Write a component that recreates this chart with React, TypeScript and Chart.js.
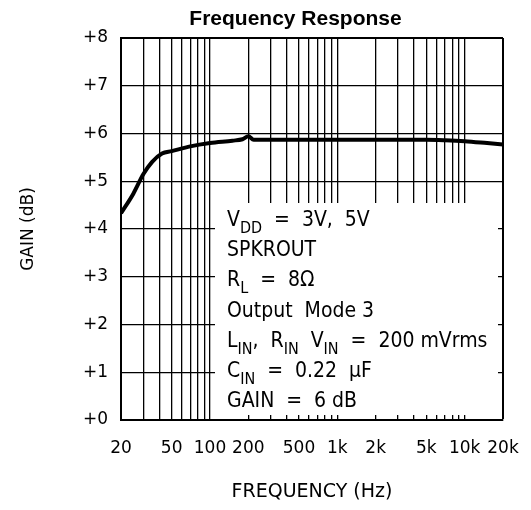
import React, { useEffect, useRef } from "react";
import { Chart, registerables } from "chart.js";

Chart.register(...registerables);

// ---- data ----
const freqs = [20, 25, 30, 35, 42, 50, 70, 100, 150, 180, 200, 220, 300, 500, 1000, 2000, 5000, 7000, 10000, 15000, 20000];
const gains = [4.33, 4.74, 5.15, 5.40, 5.58, 5.63, 5.73, 5.80, 5.85, 5.88, 5.94, 5.87, 5.87, 5.87, 5.87, 5.87, 5.87, 5.86, 5.84, 5.80, 5.77];

const gridFreqs = [20, 30, 40, 50, 60, 70, 80, 90, 100, 200, 300, 400, 500, 600, 700, 800, 900, 1000, 2000, 3000, 4000, 5000, 6000, 7000, 8000, 9000, 10000, 20000];
const xTickValues = [20, 50, 100, 200, 500, 1000, 2000, 5000, 10000, 20000];
const xTickLabels = ["20", "50", "100", "200", "500", "1k", "2k", "5k", "10k", "20k"];
const yTickValues = [0, 1, 2, 3, 4, 5, 6, 7, 8];
const yTickLabels = ["+0", "+1", "+2", "+3", "+4", "+5", "+6", "+7", "+8"];

const chartTitle = "Frequency Response";
const xTitle = "FREQUENCY (Hz)";
const yTitle = "GAIN (dB)";

// annotation lines: [text, isSubscript]
const annotationLines: [string, boolean][][] = [
  [["V", false], ["DD", true], ["  =  3V,  5V", false]],
  [["SPKROUT", false]],
  [["R", false], ["L", true], ["  =  8\u03A9", false]],
  [["Output  Mode 3", false]],
  [["L", false], ["IN", true], [",  R", false], ["IN", true], ["  V", false], ["IN", true], ["  =  200 mVrms", false]],
  [["C", false], ["IN", true], ["  =  0.22  \u03BCF", false]],
  [["GAIN  =  6 dB", false]],
];

const LABEL_FONT = '"DejaVu Sans", sans-serif';
const ANNO_FONT = '"DejaVu Sans Condensed", "DejaVu Sans", sans-serif';

const annotationPlugin = {
  id: "annoBox",
  beforeDatasetsDraw(chart: any) {
    const { ctx, chartArea } = chart;
    const { left, top, right, bottom } = chartArea;
    ctx.save();
    ctx.fillStyle = "#ffffff";
    const bx = left + 94;
    const by = top + 165;
    ctx.fillRect(bx, by, right - 5 - bx, bottom - 5 - by);
    ctx.fillStyle = "#000";
    ctx.textBaseline = "alphabetic";
    ctx.textAlign = "left";
    const x0 = left + 106;
    const y0 = top + 188;
    const step = 30.2;
    annotationLines.forEach((line, i) => {
      let x = x0;
      const y = y0 + i * step;
      line.forEach(([t, sub]) => {
        ctx.font = sub ? `16px ${ANNO_FONT}` : `21px ${ANNO_FONT}`;
        ctx.fillText(t, x, sub ? y + 7 : y);
        x += ctx.measureText(t).width;
      });
    });
    ctx.restore();
  },
  afterDraw(chart: any) {
    const { ctx } = chart;
    ctx.save();
    ctx.fillStyle = "#000";
    ctx.font = 'bold 21px "Liberation Sans", Arial, sans-serif';
    ctx.textAlign = "center";
    ctx.textBaseline = "alphabetic";
    ctx.fillText(chartTitle, 295.5, 25);
    ctx.restore();
  },
};

export default function App() {
  const canvasRef = useRef<HTMLCanvasElement | null>(null);

  useEffect(() => {
    if (!canvasRef.current) return;
    const chart = new Chart(canvasRef.current, {
      type: "line",
      data: {
        datasets: [
          {
            data: freqs.map((f, i) => ({ x: f, y: gains[i] })),
            borderColor: "#000",
            borderWidth: 4,
            pointRadius: 0,
            cubicInterpolationMode: "monotone",
            fill: false,
          },
        ],
      },
      plugins: [annotationPlugin],
      options: {
        animation: false,
        responsive: false,
        devicePixelRatio: 1,
        layout: { autoPadding: false, padding: { left: 0, right: 28, top: 38, bottom: 0 } },
        plugins: {
          legend: { display: false },
          title: { display: false },
          tooltip: { enabled: false },
        },
        scales: {
          x: {
            type: "logarithmic",
            min: 20,
            max: 20000,
            afterBuildTicks: (scale: any) => {
              scale.ticks = gridFreqs.map((v) => ({ value: v }));
            },
            afterFit: (scale: any) => {
              scale.height = 90;
              scale.paddingLeft = 0;
              scale.paddingRight = 0;
            },
            ticks: {
              autoSkip: false,
              maxRotation: 0,
              minRotation: 0,
              padding: 18,
              color: "#000",
              font: { family: LABEL_FONT, size: 17 },
              callback: (value: any) => {
                const i = xTickValues.indexOf(Number(value));
                return i >= 0 ? xTickLabels[i] : "";
              },
            },
            grid: {
              color: "#000",
              lineWidth: (ctx: any) => (ctx.tick && ctx.tick.value === 20000 ? 2 : 1.3),
              drawTicks: false,
            },
            border: { display: true, color: "#000", width: 2 },
            title: {
              display: true,
              text: xTitle,
              color: "#000",
              font: { family: LABEL_FONT, size: 19 },
              padding: { top: 0, bottom: 7 },
            },
          },
          y: {
            type: "linear",
            min: 0,
            max: 8,
            afterBuildTicks: (scale: any) => {
              scale.ticks = yTickValues.map((v) => ({ value: v }));
            },
            afterFit: (scale: any) => {
              scale.width = 121;
              scale.paddingTop = 0;
              scale.paddingBottom = 0;
            },
            ticks: {
              stepSize: 1,
              padding: 13,
              color: "#000",
              font: { family: LABEL_FONT, size: 17 },
              callback: (value: any) => {
                const i = yTickValues.indexOf(Number(value));
                return i >= 0 ? yTickLabels[i] : "";
              },
            },
            grid: {
              color: "#000",
              lineWidth: (ctx: any) => (ctx.tick && ctx.tick.value === 8 ? 2 : 1.3),
              drawTicks: false,
            },
            border: { display: true, color: "#000", width: 2 },
            title: {
              display: true,
              text: yTitle,
              color: "#000",
              font: { family: LABEL_FONT, size: 17 },
              padding: { top: 18, bottom: 0 },
            },
          },
        },
      } as any,
    });
    return () => chart.destroy();
  }, []);

  return (
    <div style={{ position: "fixed", left: 0, top: 0, width: 531, height: 510, background: "#fff" }}>
      <canvas ref={canvasRef} width={531} height={510} style={{ display: "block" }} />
    </div>
  );
}
